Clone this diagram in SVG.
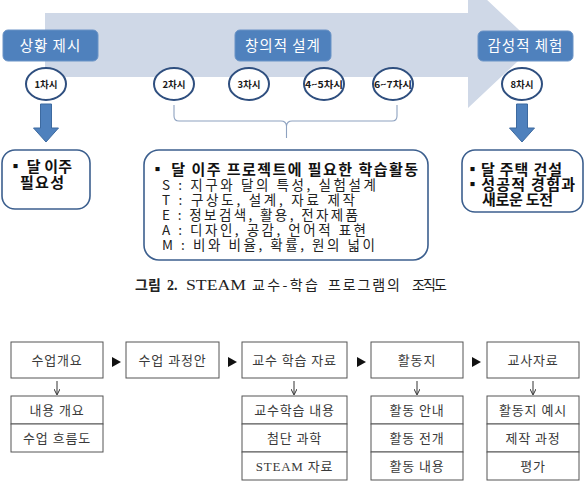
<svg xmlns="http://www.w3.org/2000/svg" width="584" height="490" viewBox="0 0 584 490">
  <style>
    .phase { fill: #4f81bd; stroke: #6a93c6; stroke-width: 1; }
    .phase-t { font-family: "Noto Sans CJK KR", sans-serif; font-size: 14.5px; fill: #ffffff; text-anchor: middle; letter-spacing: 1px; }
    .sess { fill: #ffffff; stroke: #2f4f7f; stroke-width: 2; }
    .sess-t { font-family: "Noto Sans CJK KR", sans-serif; font-size: 9.5px; font-weight: bold; fill: #1a1a1a; text-anchor: middle; }
    .card { fill: #ffffff; stroke: #3c5f8e; stroke-width: 1.6; }
    .card-b { font-family: "Noto Sans CJK KR", sans-serif; font-size: 15px; font-weight: bold; fill: #111111; }
    .card-r { font-family: "Noto Sans CJK KR", sans-serif; font-size: 13.5px; fill: #222222; }
    .down { fill: #4f81bd; stroke: #3d6aa0; stroke-width: 1; }
    .box { fill: #ffffff; stroke: #555555; stroke-width: 1; }
    .box-t { font-family: "Liberation Serif", "Noto Sans CJK KR", serif; font-size: 13px; fill: #3a3a3a; text-anchor: middle; letter-spacing: 0.8px; }
    .tri { fill: #111111; }
    .link { stroke: #333333; stroke-width: 1; fill: none; }
  </style>
  <defs>
    <marker id="ah" markerWidth="6" markerHeight="6" refX="5" refY="3" orient="auto" markerUnits="userSpaceOnUse">
      <path d="M0,0 L6,3 L0,6" fill="none" stroke="#333333" stroke-width="1"/>
    </marker>
  </defs>

  <!-- process arrow in the background -->
  <path d="M45,13 H468 V-18 L535,45 L468,108 V77 H45 Z" fill="#cfd8e7"/>

  <!-- phase labels -->
  <g id="phase-intro">
    <rect class="phase" x="3" y="30" width="95" height="31" rx="5"/>
    <text class="phase-t" x="50.5" y="51">상황 제시</text>
  </g>
  <g id="phase-design">
    <rect class="phase" x="235" y="30" width="96" height="31" rx="5"/>
    <text class="phase-t" x="283" y="51">창의적 설계</text>
  </g>
  <g id="phase-experience">
    <rect class="phase" x="478" y="31" width="95" height="30" rx="5"/>
    <text class="phase-t" x="525.5" y="51">감성적 체험</text>
  </g>

  <!-- sessions -->
  <g id="s1"><ellipse class="sess" cx="46" cy="84" rx="20" ry="16"/><text class="sess-t" x="46" y="87.5">1차시</text></g>
  <g id="s2"><ellipse class="sess" cx="174" cy="84" rx="20" ry="16"/><text class="sess-t" x="174" y="87.5">2차시</text></g>
  <g id="s3"><ellipse class="sess" cx="249" cy="84" rx="20" ry="16"/><text class="sess-t" x="249" y="87.5">3차시</text></g>
  <g id="s45"><ellipse class="sess" cx="324" cy="84" rx="20" ry="16"/><text class="sess-t" x="324" y="87.5" textLength="38" lengthAdjust="spacingAndGlyphs">4~5차시</text></g>
  <g id="s67"><ellipse class="sess" cx="393" cy="84" rx="20" ry="16"/><text class="sess-t" x="393" y="87.5" textLength="38" lengthAdjust="spacingAndGlyphs">6~7차시</text></g>
  <g id="s8"><ellipse class="sess" cx="522" cy="84" rx="20" ry="16"/><text class="sess-t" x="522" y="87.5">8차시</text></g>

  <!-- connectors -->
  <g id="connectors">
    <!-- brace under sessions 2-7 -->
    <path d="M174,105 V116 Q174,121 179,121 H281 Q286,121 286.5,126 V138 M286.5,126 Q287,121 292,121 H392 Q397,121 397,116 V105" fill="none" stroke="#8ea2c0" stroke-width="1.1"/>
    <!-- block arrows -->
    <path class="down" d="M40.5,104 H51.5 V128 H58.5 L46,142 L33.5,128 H40.5 Z"/>
    <path class="down" d="M516.5,104 H527.5 V128 H534.5 L522,142 L509.5,128 H516.5 Z"/>
    <!-- flow arrows -->
    <path class="tri" d="M112,357 L121,362 L112,367 Z"/>
    <path class="tri" d="M228,357 L237,362 L228,367 Z"/>
    <path class="tri" d="M357,357 L366,362 L357,367 Z"/>
    <path class="tri" d="M472,357 L481,362 L472,367 Z"/>
    <line class="link" x1="57" y1="381" x2="57" y2="394" marker-end="url(#ah)"/>
    <line class="link" x1="294" y1="381" x2="294" y2="394" marker-end="url(#ah)"/>
    <line class="link" x1="417" y1="381" x2="417" y2="394" marker-end="url(#ah)"/>
    <line class="link" x1="533" y1="381" x2="533" y2="394" marker-end="url(#ah)"/>
  </g>

  <!-- activity cards -->
  <g id="card-need">
    <rect class="card" x="2" y="150" width="88" height="59" rx="13"/>
    <text class="card-b" x="8" y="172" textLength="64" lengthAdjust="spacing">▪ 달 이주</text>
    <text class="card-b" x="20" y="188" textLength="44" lengthAdjust="spacing">필요성</text>
  </g>
  <g id="card-activities">
    <rect class="card" x="144" y="150" width="284" height="110" rx="15"/>
    <text class="card-b" x="150" y="175" font-size="15.5" textLength="268" lengthAdjust="spacing">▪ 달 이주 프로젝트에 필요한 학습활동</text>
    <text class="card-r" x="162" y="190" textLength="214" lengthAdjust="spacing">S : 지구와 달의 특성, 실험설계</text>
    <text class="card-r" x="162" y="205" textLength="193" lengthAdjust="spacing">T : 구상도, 설계, 자료 제작</text>
    <text class="card-r" x="162" y="220" textLength="196" lengthAdjust="spacing">E : 정보검색, 활용, 전자제품</text>
    <text class="card-r" x="162" y="235" textLength="204" lengthAdjust="spacing">A : 디자인, 공감, 언어적 표현</text>
    <text class="card-r" x="162" y="250" textLength="213" lengthAdjust="spacing">M : 비와 비율, 확률, 원의 넓이</text>
  </g>
  <g id="card-experience">
    <rect class="card" x="462" y="150" width="121" height="62" rx="13"/>
    <text class="card-b" x="465" y="175" textLength="97" lengthAdjust="spacing">▪달 주택 건설</text>
    <text class="card-b" x="465" y="190" textLength="110" lengthAdjust="spacing">▪성공적 경험과</text>
    <text class="card-b" x="482" y="205" textLength="71" lengthAdjust="spacing">새로운 도전</text>
  </g>

  <!-- caption -->
  <g id="caption" font-size="14" fill="#222222">
    <text x="135" y="290" font-family="Noto Sans CJK KR, sans-serif" font-weight="bold">그림</text>
    <text x="167" y="290" font-family="Liberation Serif, serif" font-weight="bold">2.</text>
    <text x="186" y="290" font-family="Liberation Serif, serif" textLength="60" lengthAdjust="spacingAndGlyphs">STEAM</text>
    <text x="252" y="290" font-family="Noto Sans CJK KR, sans-serif" textLength="66" lengthAdjust="spacing">교수-학습</text>
    <text x="328" y="290" font-family="Noto Sans CJK KR, sans-serif" textLength="72" lengthAdjust="spacing">프로그램의</text>
    <text x="412" y="290" font-family="Noto Sans CJK KR, sans-serif" textLength="35" lengthAdjust="spacing">조직도</text>
  </g>

  <!-- material structure -->
  <g id="overview">
    <rect class="box" x="11" y="342" width="92" height="36"/>
    <text class="box-t" x="57" y="365">수업개요</text>
    <rect class="box" x="11" y="396" width="92" height="28"/>
    <text class="box-t" x="57" y="415">내용 개요</text>
    <rect class="box" x="11" y="424" width="92" height="28"/>
    <text class="box-t" x="57" y="443">수업 흐름도</text>
  </g>
  <g id="plan">
    <rect class="box" x="126" y="342" width="93" height="36"/>
    <text class="box-t" x="172.5" y="365">수업 과정안</text>
  </g>
  <g id="materials">
    <rect class="box" x="242" y="342" width="105" height="36"/>
    <text class="box-t" x="294.5" y="365">교수 학습 자료</text>
    <rect class="box" x="242" y="396" width="105" height="28"/>
    <text class="box-t" x="294.5" y="415">교수학습 내용</text>
    <rect class="box" x="242" y="424" width="105" height="28"/>
    <text class="box-t" x="294.5" y="443">첨단 과학</text>
    <rect class="box" x="242" y="452" width="105" height="28"/>
    <text class="box-t" x="294.5" y="471" letter-spacing="0">STEAM 자료</text>
  </g>
  <g id="worksheet">
    <rect class="box" x="371" y="342" width="92" height="36"/>
    <text class="box-t" x="417" y="365">활동지</text>
    <rect class="box" x="371" y="396" width="92" height="28"/>
    <text class="box-t" x="417" y="415">활동 안내</text>
    <rect class="box" x="371" y="424" width="92" height="28"/>
    <text class="box-t" x="417" y="443">활동 전개</text>
    <rect class="box" x="371" y="452" width="92" height="28"/>
    <text class="box-t" x="417" y="471">활동 내용</text>
  </g>
  <g id="teacher">
    <rect class="box" x="487" y="342" width="92" height="36"/>
    <text class="box-t" x="533" y="365">교사자료</text>
    <rect class="box" x="487" y="396" width="92" height="28"/>
    <text class="box-t" x="533" y="415">활동지 예시</text>
    <rect class="box" x="487" y="424" width="92" height="28"/>
    <text class="box-t" x="533" y="443">제작 과정</text>
    <rect class="box" x="487" y="452" width="92" height="28"/>
    <text class="box-t" x="533" y="471">평가</text>
  </g>
</svg>
